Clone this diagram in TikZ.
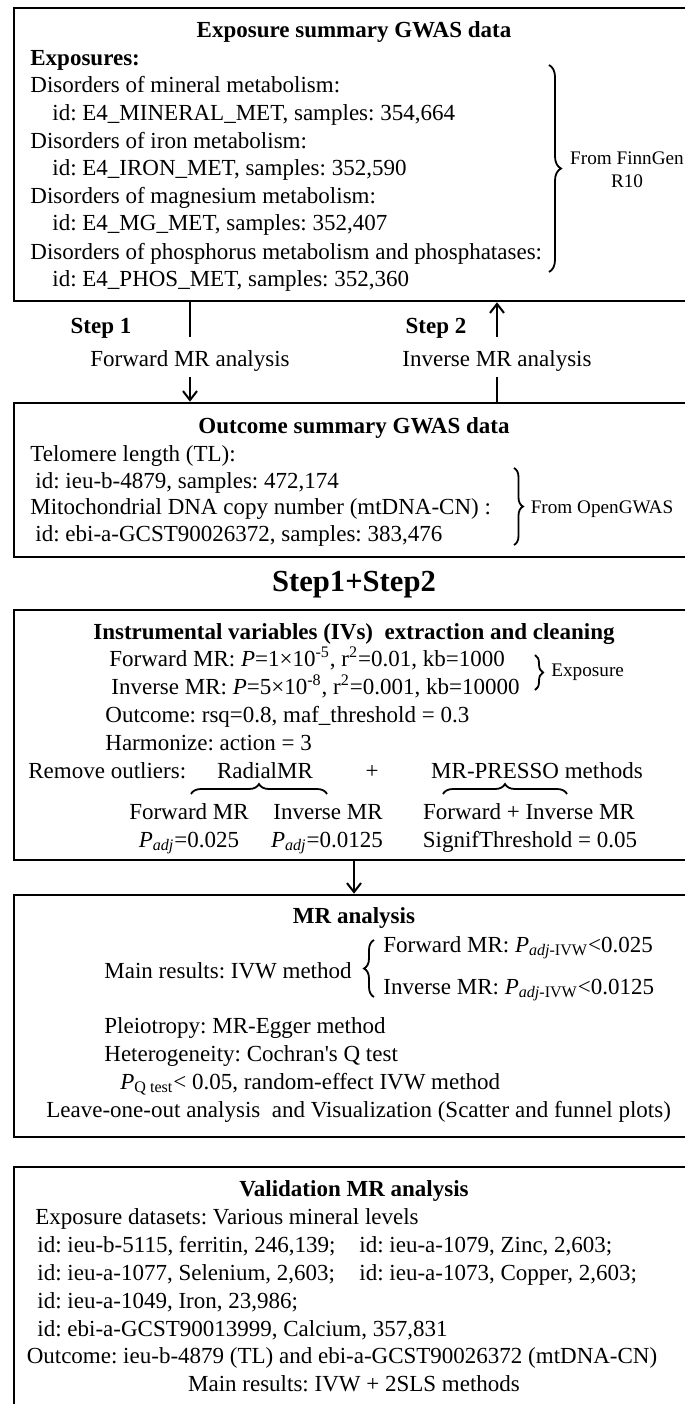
\documentclass[tikz,border=0pt]{standalone}
\usepackage{fontspec}
\setmainfont{Liberation Serif}
\frenchspacing
\usetikzlibrary{arrows.meta,decorations.pathreplacing}

\begin{document}
\begin{tikzpicture}[x=0.5pt, y=-0.5pt,
    panel/.style={draw, line width=1.3pt, minimum width=340pt, inner sep=0pt},
    txt/.style={inner sep=0pt, text height=8.5pt, text depth=2.5pt, font=\fontsize{11.5}{13}\selectfont},
    lft/.style={txt, anchor=west},
    hd/.style={txt, font=\fontsize{11.5}{13}\selectfont\bfseries},
    note/.style={inner sep=0pt, align=center, font=\fontsize{9.6}{11.5}\selectfont},
    steplbl/.style={inner sep=0pt, text height=14.5pt, text depth=5.5pt, anchor=base, font=\fontsize{11.5}{13}\selectfont},
    flow/.style={line width=1pt},
    arr/.style={flow, -{Straight Barb[length=4.5pt,width=7pt]}},
    brc/.style={decorate, decoration={brace, amplitude=#1}, line width=0.9pt},
    brc/.default=5pt]
    \useasboundingbox (0,0) rectangle (685,1404);
    % exposure panel
    \node[panel, minimum height=146.5pt] (expo) at (354,154.5) {};
    \node[hd] (expotitle) at (354,31) {Exposure summary GWAS data};
    \node[lft] (exhead) at (30,59) {\bfseries Exposures:};
    \foreach \n/\yy/\xx/\t in {1/86/30/{Disorders of mineral metabolism:},
        2/114/52/{id: E4\_MINERAL\_MET, samples: 354,664},
        3/142/30/{Disorders of iron metabolism:},
        4/169/52/{id: E4\_IRON\_MET, samples: 352,590},
        5/197/30/{Disorders of magnesium metabolism:},
        6/224/52/{id: E4\_MG\_MET, samples: 352,407},
        7/253/30/{Disorders of phosphorus metabolism and phosphatases:},
        8/280/52/{id: E4\_PHOS\_MET, samples: 352,360}}{
      \node[lft] (ex\n) at (\xx,\yy) {\t};
    }
    \draw[brc=6pt] (549,65) -- (549,272);
    \node[note] (finngen) at (627,170) {From FinnGen\\R10};
    % step 1 and step 2
    \node[hd] (step1) at (101,327) {Step 1};
    \node[hd] (step2) at (436,327) {Step 2};
    \node[steplbl] (fwd) at (190,366) {Forward MR analysis};
    \node[steplbl] (inv) at (497,366) {Inverse MR analysis};
    % outcome panel
    \node[panel, minimum height=77pt] (outc) at (354,480) {};
    \node[hd] (outctitle) at (354,427) {Outcome summary GWAS data};
    \node[lft] (oc1) at (30,455) {Telomere length (TL):};
    \node[lft] (oc2) at (35,482) {id: ieu-b-4879, samples: 472,174};
    \node[lft] (oc3) at (30,508) {Mitochondrial DNA copy number (mtDNA-CN) :};
    \node[lft] (oc4) at (35,535) {id: ebi-a-GCST90026372, samples: 383,476};
    \draw[brc=4.5pt] (514,468) -- (514,545);
    \node[note] (opengwas) at (602,509) {From OpenGWAS};
    % arrows between the two data panels
    \draw[flow] (expo.south -| fwd) -- (fwd.north);
    \draw[arr] (fwd.south) -- (fwd.south |- outc.north);
    \draw[arr] (inv.north) -- (inv.north |- expo.south);
    \draw[flow] (inv.south) -- (inv.south |- outc.north);
    % both steps
    \node[inner sep=0pt, font=\fontsize{15.3}{18}\selectfont\bfseries] (both) at (354,585) {Step1+Step2};
    % IV panel
    \node[panel, minimum height=125pt] (ivs) at (354,735) {};
    \node[hd] (ivstitle) at (354,633) {Instrumental variables (IVs)\ \ extraction and cleaning};
    \node[lft] (iv1) at (109,660) {Forward MR: \textit{P}=1\texttimes10\textsuperscript{-5}, r\textsuperscript{2}=0.01, kb=1000};
    \node[lft] (iv2) at (111,688) {Inverse MR: \textit{P}=5\texttimes10\textsuperscript{-8}, r\textsuperscript{2}=0.001, kb=10000};
    \draw[brc=4pt] (535,655) -- (535,690);
    \node[note, anchor=west] (expnote) at (551,672) {Exposure};
    \node[lft] (iv3) at (105,716) {Outcome: rsq=0.8, maf\_threshold = 0.3};
    \node[lft] (iv4) at (105,744) {Harmonize: action = 3};
    \node[lft] (iv5) at (28,772) {Remove outliers:};
    \node[txt] (radial) at (265,772) {RadialMR};
    \node[txt] (plus) at (372,772) {+};
    \node[txt] (presso) at (537,772) {MR-PRESSO methods};
    \draw[brc] (191,794) -- (327,794);
    \draw[brc] (443,794) -- (567,794);
    \node[txt] (rfwd) at (189,813) {Forward MR};
    \node[txt] (rinv) at (328,813) {Inverse MR};
    \node[txt] (pboth) at (529,813) {Forward + Inverse MR};
    \node[txt] (rfwdp) at (189,841) {\textit{P}\textsubscript{\textit{adj}}=0.025};
    \node[txt] (rinvp) at (327,841) {\textit{P}\textsubscript{\textit{adj}}=0.0125};
    \node[txt] (pbothp) at (530,841) {SignifThreshold = 0.05};
    % MR analysis panel
    \node[panel, minimum height=121pt] (mra) at (354,1016) {};
    \draw[arr] (ivs.south) -- (mra.north);
    \node[hd] (mratitle) at (354,917) {MR analysis};
    \node[lft] (mr1) at (104,972) {Main results: IVW method};
    \draw[brc] (374,997) -- (374,940);
    \node[lft] (mrf) at (383,946) {Forward MR: \textit{P}\textsubscript{\textit{adj}-IVW}<0.025};
    \node[lft] (mri) at (383,988) {Inverse MR: \textit{P}\textsubscript{\textit{adj}-IVW}<0.0125};
    \node[lft] (mr2) at (104,1027) {Pleiotropy: MR-Egger method};
    \node[lft] (mr3) at (104,1055) {Heterogeneity: Cochran\textquotesingle s Q test};
    \node[lft] (mr4) at (120,1083) {\textit{P}\textsubscript{Q test}< 0.05, random-effect IVW method};
    \node[lft] (mr5) at (46,1111) {Leave-one-out analysis\ \ and Visualization (Scatter and funnel plots)};
    % validation panel
    \node[panel, minimum height=122.5pt] (val) at (354,1289.5) {};
    \node[hd] (valtitle) at (354,1190) {Validation MR analysis};
    \node[lft] (va0) at (35,1218) {Exposure datasets: Various mineral levels};
    \foreach \n/\yy/\xx/\t in {1/1246/37/{id: ieu-b-5115, ferritin, 246,139;},
        2/1246/359/{id: ieu-a-1079, Zinc, 2,603;},
        3/1274/37/{id: ieu-a-1077, Selenium, 2,603;},
        4/1274/359/{id: ieu-a-1073, Copper, 2,603;},
        5/1302/37/{id: ieu-a-1049, Iron, 23,986;},
        6/1330/37/{id: ebi-a-GCST90013999, Calcium, 357,831}}{
      \node[lft] (va\n) at (\xx,\yy) {\t};
    }
    \node[txt] (vaout) at (342,1357) {Outcome: ieu-b-4879 (TL) and ebi-a-GCST90026372 (mtDNA-CN)};
    \node[txt] (vamain) at (354,1385) {Main results: IVW + 2SLS methods};
  \end{tikzpicture}
\end{document}
